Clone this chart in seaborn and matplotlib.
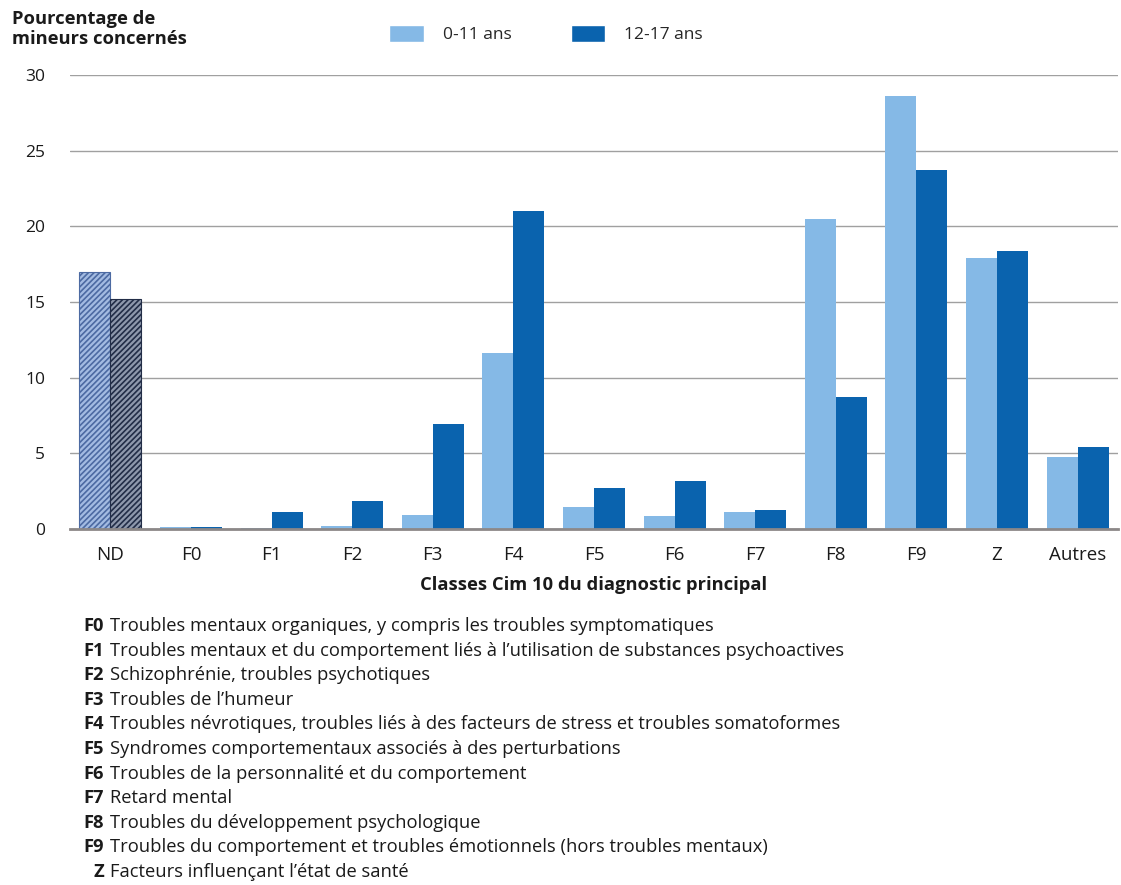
import matplotlib
matplotlib.use("Agg")
import matplotlib.pyplot as plt
import seaborn as sns
import pandas as pd
from matplotlib.patches import Patch

categories = ["ND", "F0", "F1", "F2", "F3", "F4", "F5", "F6", "F7", "F8", "F9", "Z", "Autres"]
groups = ["0-11 ans", "12-17 ans"]
vals_0_11 = [17.0, 0.1, 0.05, 0.2, 0.9, 11.6, 1.45, 0.85, 1.1, 20.5, 28.6, 17.9, 4.75]
vals_12_17 = [15.2, 0.15, 1.1, 1.85, 6.95, 21.0, 2.7, 3.15, 1.25, 8.7, 23.7, 18.4, 5.4]
yticks = [0, 5, 10, 15, 20, 25, 30]
legend_codes = ["F0", "F1", "F2", "F3", "F4", "F5", "F6", "F7", "F8", "F9", "Z"]
legend_texts = [
    "Troubles mentaux organiques, y compris les troubles symptomatiques",
    "Troubles mentaux et du comportement liés à l\u2019utilisation de substances psychoactives",
    "Schizophrénie, troubles psychotiques",
    "Troubles de l\u2019humeur",
    "Troubles névrotiques, troubles liés à des facteurs de stress et troubles somatoformes",
    "Syndromes comportementaux associés à des perturbations",
    "Troubles de la personnalité et du comportement",
    "Retard mental",
    "Troubles du développement psychologique",
    "Troubles du comportement et troubles émotionnels (hors troubles mentaux)",
    "Facteurs influençant l\u2019état de santé",
]

df = pd.DataFrame({
    "cat": categories * 2,
    "grp": [groups[0]] * len(categories) + [groups[1]] * len(categories),
    "val": vals_0_11 + vals_12_17,
})

sns.set_style("white")
plt.rcParams["font.family"] = ["Open Sans", "DejaVu Sans"]
plt.rcParams["hatch.linewidth"] = 1.2

light = "#85B9E6"
dark = "#0A63AE"
txtc = "#1a1a1a"

fig = plt.figure(figsize=(11.21, 8.85), dpi=100)
ax = fig.add_axes([70 / 1121, 1 - 529 / 885, (1118 - 70) / 1121, (529 - 75) / 885])

sns.barplot(data=df, x="cat", y="val", hue="grp", order=categories, hue_order=groups,
            palette=[light, dark], width=0.77, saturation=1, ax=ax, legend=False,
            linewidth=0, gap=0)

# hatch the ND bars
c_light, c_dark = ax.containers[0], ax.containers[1]
b = c_light[0]
b.set_facecolor("#a3bbe2"); b.set_edgecolor("#4c6aa2"); b.set_hatch("//////"); b.set_linewidth(0.8)
b = c_dark[0]
b.set_facecolor("#8e98ac"); b.set_edgecolor("#222d47"); b.set_hatch("//////"); b.set_linewidth(0.8)

ax.set_xlim(-0.5, len(categories) - 0.5)
ax.set_ylim(0, 30)
ax.set_yticks(yticks)
ax.yaxis.grid(True, color="#a0a0a0", linewidth=1.0)
ax.set_axisbelow(True)
for s in ["top", "right", "left"]:
    ax.spines[s].set_visible(False)
ax.spines["bottom"].set_color("#8c8888")
ax.spines["bottom"].set_linewidth(2.0)
ax.tick_params(axis="y", length=0, labelsize=12.5, pad=18, colors=txtc)
ax.tick_params(axis="x", which="major", length=0, labelsize=13.5, pad=12, colors=txtc)
ax.set_xticks([i + 0.5 for i in range(len(categories) - 1)], minor=True)
ax.tick_params(axis="x", which="minor", length=9, width=2, color="#8c8888")
ax.set_xlabel("Classes Cim 10 du diagnostic principal", fontsize=13.2, fontweight="bold",
              labelpad=9, color=txtc)
ax.set_ylabel("")

fig.text(12 / 1121, 1 - 29 / 885, "Pourcentage de\nmineurs concernés", fontsize=13.2,
         fontweight="bold", ha="left", va="center", linespacing=1.2, color=txtc)

handles = [Patch(facecolor=light), Patch(facecolor=dark)]
fig.legend(handles, groups, loc="center", bbox_to_anchor=(546 / 1121, 1 - 34 / 885), ncol=2,
           frameon=False, fontsize=12.5, handlelength=2.0, handleheight=1.1,
           columnspacing=3.4, handletextpad=1.1)

y0 = 626
for i, (code, txt) in enumerate(zip(legend_codes, legend_texts)):
    y = 1 - (y0 + i * 24.6) / 885
    fig.text(104 / 1121, y, code, fontsize=13.2, fontweight="bold", ha="right", va="center",
             color=txtc)
    fig.text(110 / 1121, y, txt, fontsize=13.2, ha="left", va="center", color=txtc)

fig.savefig("out.png", dpi=100)
